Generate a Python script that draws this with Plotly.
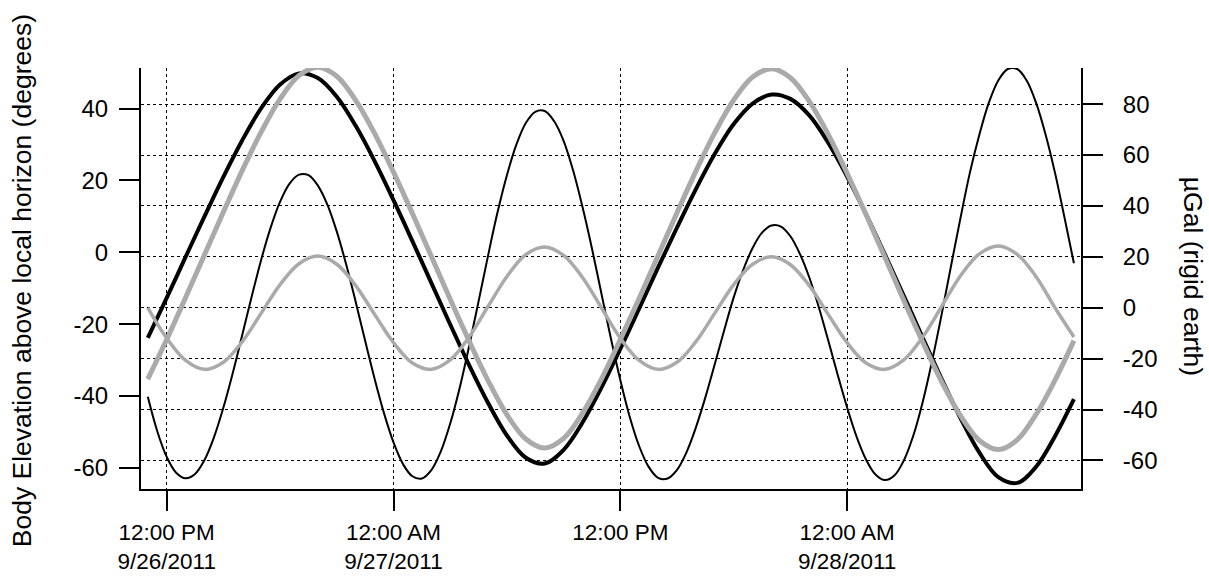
import plotly.graph_objects as go
import pandas as pd

# sample times: 11:00 AM 9/26/2011 .. 12:00 PM 9/28/2011
times = pd.date_range("2011-09-26 11:00", "2011-09-28 12:00", freq="h")
times_half = pd.date_range("2011-09-26 11:00", "2011-09-28 12:00", freq="30min")

# Moon elevation (degrees) - thick black, hourly
moon_elev = [-23.8, -12.7, -1.3, 10.0, 21.0, 31.2, 40.1, 46.7, 49.8, 48.5,
             43.3, 35.2, 25.4, 14.5, 3.1, -8.5, -20.1, -31.4, -41.9, -51.0,
             -57.2, -58.8, -55.0, -47.4, -37.7, -26.9, -15.6, -4.2, 6.9, 17.6,
             27.4, 35.7, 41.4, 43.9, 42.7, 38.1, 30.5, 21.1, 10.6, -0.6,
             -12.1, -23.8, -35.2, -46.2, -55.8, -62.6, -64.2, -59.7, -51.2, -40.9]

# Sun elevation (degrees) - thick gray, hourly
sun_elev = [-35.3, -24.3, -12.6, -0.7, 11.2, 22.8, 33.5, 42.7, 49.2, 51.5,
            49.0, 42.3, 33.1, 22.3, 10.8, -1.1, -13.1, -24.7, -35.7, -45.2,
            -52.0, -54.5, -51.8, -44.8, -35.3, -24.3, -12.8, -0.9, 11.0, 22.6,
            33.3, 42.4, 48.8, 51.1, 48.6, 42.0, 32.8, 22.0, 10.5, -1.4,
            -13.4, -25.0, -36.0, -45.5, -52.4, -54.9, -52.2, -45.1, -35.6, -24.6]

# Lunar tide (uGal, rigid earth) - thin black, half-hourly
moon_tide = [-35.0, -48.5, -58.6, -64.8, -67.0, -65.3, -59.8, -50.9, -39.2, -25.5,
             -10.6, 4.5, 18.9, 31.5, 41.7, 48.8, 52.3, 52.1, 48.0, 40.5,
             29.9, 16.9, 2.3, -13.0, -27.9, -41.5, -52.9, -61.4, -66.2, -67.1,
             -63.8, -56.5, -45.5, -31.5, -15.1, 2.5, 20.4, 37.4, 52.1, 64.1,
             72.6, 77.0, 77.3, 73.3, 65.6, 54.0, 39.6, 23.3, 5.6, -12.0,
             -28.4, -42.9, -54.4, -62.5, -66.8, -67.1, -63.7, -56.8, -47.0, -35.2,
             -22.1, -8.7, 4.1, 14.8, 23.5, 29.5, 32.3, 31.9, 28.1, 21.2,
             11.9, 0.3, -12.8, -26.3, -39.2, -50.6, -59.6, -65.5, -67.7, -65.9,
             -60.0, -50.3, -37.0, -20.8, -2.7, 16.5, 35.3, 53.2, 68.1, 80.6,
             89.3, 93.8, 93.8, 89.3, 80.5, 68.1, 53.0, 35.5, 17.5]

# Solar tide (uGal, rigid earth) - thin gray, hourly
sun_tide = [0.0, -11.9, -20.7, -24.2, -21.4, -13.3, -2.1, 9.1, 17.3, 20.3,
            17.1, 8.7, -2.6, -13.7, -21.7, -24.2, -20.5, -11.5, 0.5, 12.3,
            20.9, 23.9, 20.6, 11.9, 0.0, -11.9, -20.7, -24.2, -21.4, -13.3,
            -2.1, 9.1, 17.1, 20.0, 16.9, 8.7, -2.6, -13.7, -21.7, -24.2,
            -20.5, -11.5, 0.5, 12.6, 21.2, 24.3, 21.0, 12.2, 0.0, -11.5]

x_tick_vals = ["2011-09-26 12:00", "2011-09-27 00:00", "2011-09-27 12:00", "2011-09-28 00:00"]
x_tick_text = ["12:00 PM<br>9/26/2011", "12:00 AM<br>9/27/2011", "12:00 PM", "12:00 AM<br>9/28/2011"]
left_ticks = [-60, -40, -20, 0, 20, 40]
left_tick_text = ["-60", "-40", "-20", "0", "20", "40"]
right_ticks = [-60, -40, -20, 0, 20, 40, 60, 80]
right_tick_text = ["-60", "-40", "-20", "0", "20", "40", "60", "80"]

x_range = ["2011-09-26 10:38:24", "2011-09-28 12:22:30"]
left_range = [-65.9, 51.3]
right_range = [-71.2, 94.2]

GRAY = "#aaaaaa"
FONT = "Liberation Sans, Arial, sans-serif"

fig = go.Figure()
fig.add_trace(go.Scatter(x=times, y=moon_elev, yaxis="y", mode="lines",
                         line=dict(color="black", width=4, shape="spline")))
fig.add_trace(go.Scatter(x=times_half, y=moon_tide, yaxis="y2", mode="lines",
                         line=dict(color="black", width=2, shape="spline")))
fig.add_trace(go.Scatter(x=times, y=sun_elev, yaxis="y3", mode="lines",
                         line=dict(color=GRAY, width=5, shape="spline")))
fig.add_trace(go.Scatter(x=times, y=sun_tide, yaxis="y4", mode="lines",
                         line=dict(color=GRAY, width=3.5, shape="spline")))

axis_common = dict(ticks="outside", ticklen=20, tickwidth=2, tickcolor="black",
                   showline=True, linewidth=2, linecolor="black",
                   zeroline=False)
x_font = dict(family=FONT, size=22.5, color="black")
y_font = dict(family=FONT, size=24, color="black")

fig.update_layout(
    width=1209, height=578,
    margin=dict(l=141, r=128, t=68, b=89, autoexpand=False),
    paper_bgcolor="white", plot_bgcolor="white",
    showlegend=False,
    font=dict(family=FONT, size=22.5, color="black"),
    xaxis=dict(type="date", range=x_range, tickmode="array",
               tickvals=x_tick_vals, ticktext=x_tick_text, tickfont=x_font,
               showgrid=True, gridcolor="black", gridwidth=1, griddash="dot",
               ticklabelstandoff=2, **axis_common),
    yaxis=dict(range=left_range, tickmode="array", tickvals=left_ticks,
               ticktext=left_tick_text, tickfont=y_font,
               showgrid=False, ticklabelstandoff=6, **axis_common),
    yaxis2=dict(range=right_range, tickmode="array", tickvals=right_ticks,
                ticktext=right_tick_text, tickfont=y_font,
                overlaying="y", side="right", anchor="x",
                showgrid=True, gridcolor="black", gridwidth=1, griddash="dot",
                ticklabelstandoff=15, **axis_common),
    yaxis3=dict(range=left_range, overlaying="y", visible=False),
    yaxis4=dict(range=right_range, overlaying="y", visible=False),
    annotations=[
        dict(text="Body Elevation above local horizon (degrees)", textangle=-90,
             xref="paper", yref="paper", x=(22 - 141) / 940, y=0.4935,
             xanchor="center", yanchor="middle", showarrow=False,
             font=dict(family=FONT, size=26.5, color="black")),
        dict(text="µGal (rigid earth)", textangle=90,
             xref="paper", yref="paper", x=(1192.5 - 141) / 940, y=0.5053,
             xanchor="center", yanchor="middle", showarrow=False,
             font=dict(family=FONT, size=26.5, color="black")),
    ],
)

fig.write_html("out.html")
